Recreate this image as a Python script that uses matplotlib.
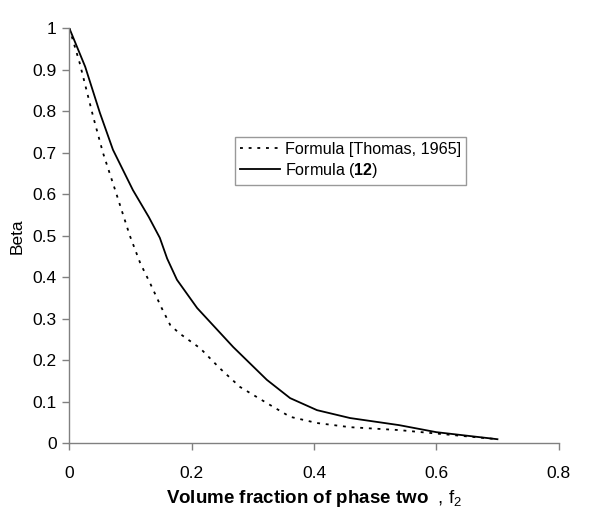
import matplotlib
matplotlib.use("Agg")
import matplotlib.pyplot as plt

plt.rcParams['font.family'] = ['Liberation Sans', 'DejaVu Sans']
plt.rcParams['mathtext.fontset'] = 'custom'
plt.rcParams['mathtext.rm'] = 'Liberation Sans'
plt.rcParams['mathtext.it'] = 'Liberation Sans'
plt.rcParams['mathtext.bf'] = 'Liberation Sans:bold'

# Formula [Thomas, 1965] (dotted)
x_thomas = [0.0, 0.017, 0.039, 0.055, 0.075, 0.099, 0.116, 0.132, 0.151, 0.165,
            0.18, 0.214, 0.246, 0.279, 0.323, 0.361, 0.405, 0.459, 0.539, 0.62, 0.70]
y_thomas = [1.0, 0.916, 0.787, 0.70, 0.61, 0.50, 0.434, 0.386, 0.326, 0.285,
            0.265, 0.229, 0.181, 0.136, 0.097, 0.064, 0.049, 0.039, 0.032, 0.021, 0.010]

# Formula (12) (solid)
x_f12 = [0.0, 0.026, 0.050, 0.0714, 0.104, 0.130, 0.148, 0.160, 0.176, 0.209,
         0.268, 0.323, 0.361, 0.405, 0.459, 0.539, 0.60, 0.70]
y_f12 = [1.0, 0.907, 0.796, 0.707, 0.61, 0.545, 0.495, 0.445, 0.394, 0.326,
         0.232, 0.153, 0.109, 0.080, 0.061, 0.044, 0.027, 0.010]

xticks = [0, 0.2, 0.4, 0.6, 0.8]
xticklabels = ["0", "0.2", "0.4", "0.6", "0.8"]
yticks = [0, 0.1, 0.2, 0.3, 0.4, 0.5, 0.6, 0.7, 0.8, 0.9, 1.0]
yticklabels = ["0", "0.1", "0.2", "0.3", "0.4", "0.5", "0.6", "0.7", "0.8", "0.9", "1"]

fig = plt.figure(figsize=(6.0, 5.21), dpi=100)
ax = fig.add_axes([0.1155, 0.149, 0.8155, 0.797])

ax.plot(x_thomas, y_thomas, color='black', lw=1.3, linestyle=(0, (1.6, 3.2)),
        label='Formula [Thomas, 1965]')
ax.plot(x_f12, y_f12, color='black', lw=1.3, linestyle='-',
        label=r'Formula ($\mathbf{12}$)')

ax.set_xlim(0, 0.8)
ax.set_ylim(0, 1)
ax.set_xticks(xticks)
ax.set_xticklabels(xticklabels)
ax.set_yticks(yticks)
ax.set_yticklabels(yticklabels)

for s in ['top', 'right']:
    ax.spines[s].set_visible(False)
for s in ['left', 'bottom']:
    ax.spines[s].set_color('#808080')
    ax.spines[s].set_linewidth(1.0)
ax.tick_params(axis='both', direction='out', length=5, width=1.0, color='#808080',
               labelsize=12.5, labelcolor='black')
ax.tick_params(axis='x', pad=11)
ax.tick_params(axis='y', pad=4)

ax.set_ylabel('Beta', fontsize=12.5, labelpad=6)
ax.set_xlabel(r'$\mathbf{Volume\ fraction\ of\ phase\ two}$  , f$_2$', fontsize=13.5, labelpad=5)

leg = ax.legend(loc='upper left', bbox_to_anchor=(235/600, 1 - 137/521),
                bbox_transform=fig.transFigure, fontsize=11.6, frameon=True,
                fancybox=False, handlelength=2.5, handletextpad=0.3,
                borderpad=0.3, labelspacing=0.25, borderaxespad=0)
leg.get_frame().set_edgecolor('#808080')
leg.get_frame().set_linewidth(1.0)

fig.savefig('out.png', dpi=100)
